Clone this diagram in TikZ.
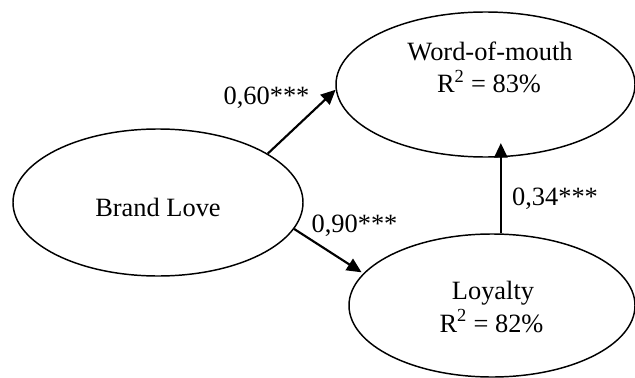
\documentclass[tikz,border=0pt]{standalone}
\usepackage{fontspec}
\setmainfont{Liberation Serif}
\usetikzlibrary{shapes.geometric,arrows.meta}
\begin{document}
\begin{tikzpicture}[x=0.75pt,y=-0.75pt,
  construct/.style={draw,ellipse,line width=1.1pt,inner sep=0pt},
  txt/.style={anchor=base,inner sep=0pt,font=\fontsize{19.8}{24}\selectfont},
  arr/.style={line width=1.6pt,-{Triangle[length=11pt,width=10pt]}}]
\useasboundingbox (0,0) rectangle (635,378);
\node[construct,minimum width=217.5pt,minimum height=110.25pt] (bl) at (158,202.5) {};
\node[construct,minimum width=224.25pt,minimum height=108.75pt] (wom) at (485.5,84.5) {};
\node[construct,minimum width=214.5pt,minimum height=107.25pt] (loy) at (492,305.5) {};
\node[txt] (bltxt) at (158,216) {Brand Love};
\node[txt] (womtxt) at (490,61) {Word-of-mouth};
\node[txt] (womr) at (489,93) {R\textsuperscript{2} = 83\%};
\node[txt] (loytxt) at (493,299) {Loyalty};
\node[txt] (loyr) at (491.5,332) {R\textsuperscript{2} = 82\%};
\draw[arr] (bl.24.6) -- (wom.182);
\draw[arr,shorten >=1.5pt] (bl.-11.8) -- (loy.166);
\draw[arr,shorten >=-11pt] (loy.83) -- (loy.83 |- wom.south);
\node[txt] (l1) at (266.5,104) {0,60***};
\node[txt] (l2) at (354.5,232) {0,90***};
\node[txt] (l3) at (555,205) {0,34***};
\end{tikzpicture}
\end{document}
